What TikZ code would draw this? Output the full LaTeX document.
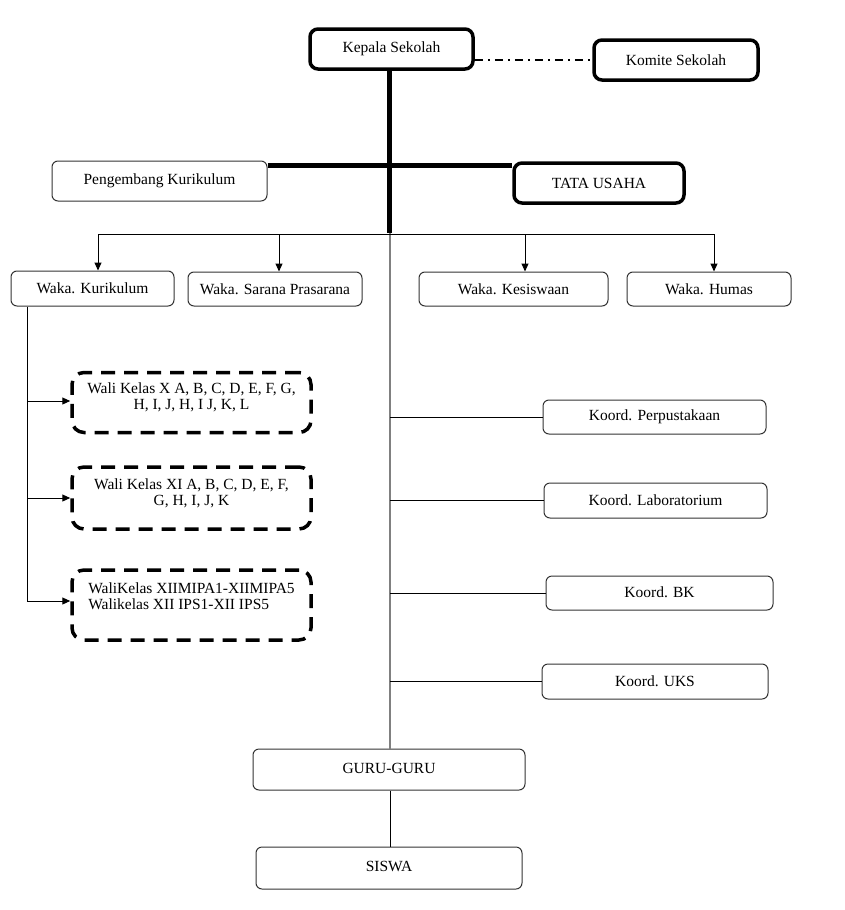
\documentclass[tikz,border=0pt]{standalone}
\usepackage{fontspec}
\setmainfont{Liberation Serif}
\usetikzlibrary{arrows.meta}
\begin{document}
\begin{tikzpicture}[x=1pt,y=-1pt,
  every node/.style={font=\fontsize{15.5}{16}\selectfont, inner sep=0pt},
  thickbox/.style={draw=black, line width=3.5pt, rounded corners=8pt},
  thinbox/.style={draw=black!80, line width=1pt, rounded corners=6pt},
  dashbox/.style={draw=black, line width=3.5pt, rounded corners=12pt, dash pattern=on 14pt off 9pt},
  conn/.style={draw=black, line width=1pt},
  arr/.style={conn, -{Triangle[length=8pt,width=7pt]}},
  trunk/.style={draw=black, line width=5pt},
  graytrunk/.style={draw=black!50, line width=2pt}
]
\useasboundingbox (0,0) rectangle (844,910);
% nodes
\node[thickbox, minimum width=163pt, minimum height=40pt] (kepala) at (391.5,49) {Kepala Sekolah};
\node[thickbox, minimum width=164pt, minimum height=40pt] (komite) at (676,60) {Komite Sekolah};
\node[thinbox, minimum width=215pt, minimum height=40pt] (peng) at (159.5,181) {Pengembang Kurikulum};
\node[thickbox, minimum width=170pt, minimum height=40pt] (tata) at (599,183) {TATA USAHA};
\node[thinbox, minimum width=163pt, minimum height=35pt] (wkur) at (92.5,288.5) {Waka. Kurikulum};
\node[thinbox, minimum width=174pt, minimum height=34pt] (wsar) at (275,289) {Waka. Sarana Prasarana};
\node[thinbox, minimum width=189pt, minimum height=34pt] (wkes) at (513.5,289) {Waka. Kesiswaan};
\node[thinbox, minimum width=164pt, minimum height=34pt] (whum) at (709,289) {Waka. Humas};
\node[dashbox, minimum width=239pt, minimum height=60pt] (wx) at (191.5,402.5) {\raisebox{0.5pt}[0pt][0pt]{\begin{tabular}{@{}c@{}}Wali Kelas X A, B, C, D, E, F, G,\\ H, I, J, H, I J, K, L\end{tabular}}};
\node[dashbox, minimum width=239pt, minimum height=62pt] (wxi) at (191.5,498) {\raisebox{0pt}[0pt][0pt]{\begin{tabular}{@{}c@{}}Wali Kelas XI A, B, C, D, E, F,\\ G, H, I, J, K\end{tabular}}};
\node[dashbox, minimum width=239pt, minimum height=70pt] (wxii) at (191.5,605) {\raisebox{3pt}[0pt][0pt]{\begin{tabular}{@{}l@{}}WaliKelas XIIMIPA1-XIIMIPA5\\ Walikelas XII IPS1-XII IPS5\end{tabular}}};
\node[thinbox, minimum width=223pt, minimum height=34pt] (kperp) at (654.5,417) {\raisebox{1pt}{Koord. Perpustakaan}};
\node[thinbox, minimum width=223pt, minimum height=35pt] (klab) at (655.5,500.5) {\raisebox{1pt}{Koord. Laboratorium}};
\node[thinbox, minimum width=227pt, minimum height=34pt] (kbk) at (659.5,593) {\raisebox{2pt}{Koord. BK}};
\node[thinbox, minimum width=226pt, minimum height=35pt] (kuks) at (655,681.5) {\raisebox{1pt}{Koord. UKS}};
\node[thinbox, minimum width=272pt, minimum height=41pt] (guru) at (389,769.5) {\raisebox{3pt}{GURU-GURU}};
\node[thinbox, minimum width=266pt, minimum height=42pt] (siswa) at (389,868) {\raisebox{3pt}{SISWA}};
% coordinates
\coordinate (top) at (389,233);
\coordinate (gl) at (390,233);
\coordinate (h) at (389,165);
\coordinate (a1) at (98,234);
\coordinate (a2) at (279,234);
\coordinate (a3) at (525,234);
\coordinate (a4) at (714,234);
\coordinate (lv) at (27,601);
% Kepala - Komite
\draw[line width=1.5pt, dash pattern=on 8pt off 5pt on 2pt off 5pt] (komite.west -| kepala.east) -- (komite.west);
% gray lower trunk
\draw[graytrunk] (gl) -- (gl |- guru.north);
% koord branches
\foreach \k in {kperp,klab,kbk,kuks}
  \draw[conn] (\k.west -| gl) -- (\k.west);
% thick trunk
\draw[trunk] (kepala.south -| top) -- (top);
\draw[trunk] (h -| peng.east) -- (h -| tata.west);
% waka branch
\draw[conn] (a1) -- (a4);
\draw[arr] (a1) -- (a1 |- wkur.north);
\draw[arr] (a2) -- (a2 |- wsar.north);
\draw[arr] (a3) -- (a3 |- wkes.north);
\draw[arr] (a4) -- (a4 |- whum.north);
% wali
\draw[conn] (lv |- wkur.south) -- (lv);
\draw[arr] (lv |- 0,401) -- (wx.west |- 0,401);
\draw[arr] (lv |- 0,498) -- (wxi.west |- 0,498);
\draw[arr] (lv) -- (lv -| wxii.west);
% guru - siswa
\draw[conn] (guru.south -| gl) -- (gl |- siswa.north);
\end{tikzpicture}
\end{document}
